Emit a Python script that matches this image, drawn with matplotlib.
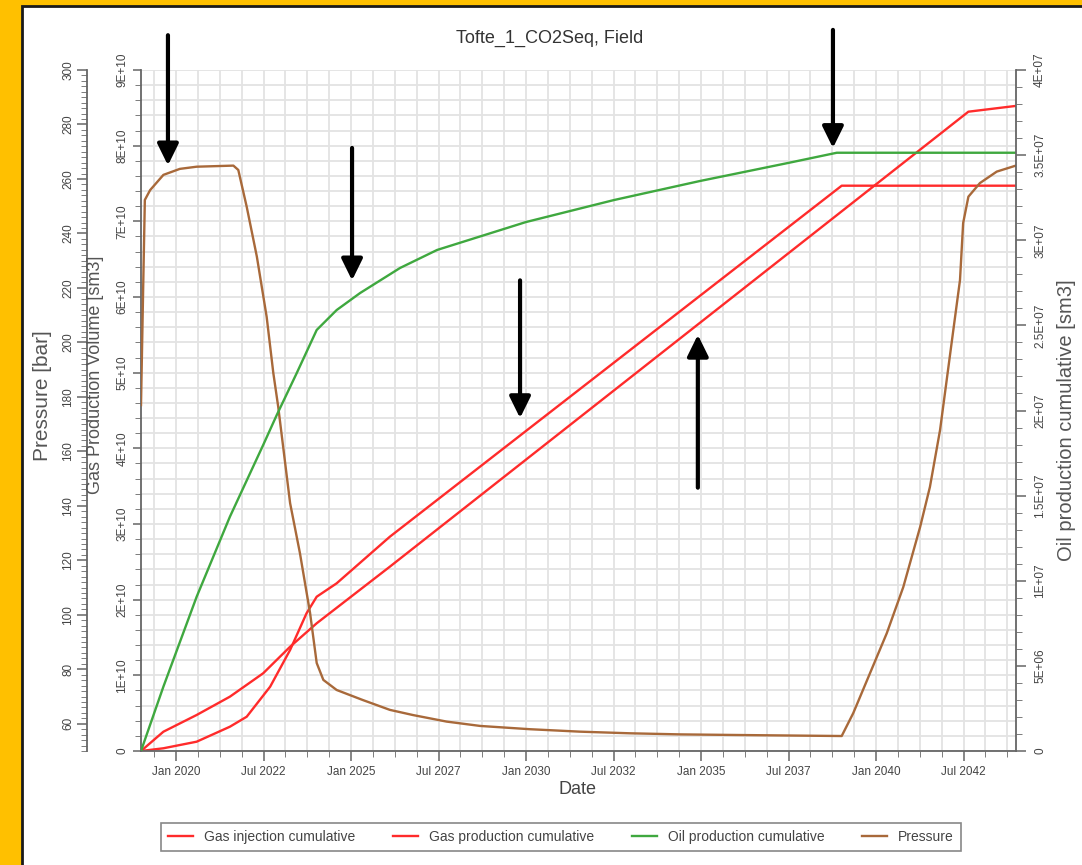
import matplotlib
matplotlib.use("Agg")
import matplotlib.pyplot as plt
from matplotlib.patches import Rectangle
from matplotlib.ticker import MultipleLocator, FuncFormatter, FixedLocator

plt.rcParams['font.family'] = ['Liberation Sans', 'DejaVu Sans']

# ---- data (x in decimal years) ----
p_years = [2019.0, 2019.07, 2019.11, 2019.26, 2019.64, 2020.11, 2020.59, 2021.64, 2021.78,
           2022.02, 2022.31, 2022.59, 2022.78, 2022.92, 2023.26, 2023.54, 2023.83, 2024.02,
           2024.21, 2024.59, 2025.34, 2026.11, 2026.77, 2027.73, 2028.69, 2030.11, 2031.54,
           2032.97, 2034.40, 2035.83, 2038.20, 2039.02, 2039.35, 2039.83, 2040.31, 2040.78,
           2041.26, 2041.54, 2041.83, 2042.02, 2042.21, 2042.40, 2042.49, 2042.64, 2042.97,
           2043.45, 2043.97]
pressure = [177.0, 225.5, 252.3, 255.9, 261.5, 263.7, 264.5, 264.9, 263.3,
            249.8, 231.5, 209.4, 188.8, 176.4, 141.0, 122.7, 100.7, 82.3,
            76.1, 72.4, 68.7, 65.1, 63.2, 60.8, 59.2, 58.0, 57.1,
            56.5, 56.1, 55.9, 55.6, 55.5, 63.9, 78.6, 93.3, 110.2,
            132.2, 146.9, 167.8, 186.2, 204.6, 222.9, 243.8, 253.5, 258.5,
            262.7, 264.8]

oil_years = [2019.0, 2019.64, 2020.59, 2021.54, 2022.49, 2022.88, 2023.45, 2024.02, 2024.59,
             2025.26, 2026.4, 2027.46, 2030.0, 2032.51, 2034.97, 2037.49, 2038.88, 2043.97]
oil_cum = [0, 0.378e7, 0.906e7, 1.376e7, 1.797e7, 1.974e7, 2.220e7, 2.473e7, 2.590e7,
           2.690e7, 2.837e7, 2.943e7, 3.107e7, 3.236e7, 3.348e7, 3.454e7, 3.514e7, 3.514e7]

gprod_years = [2019.0, 2019.64, 2020.59, 2021.54, 2022.02, 2022.69, 2023.26, 2023.73, 2024.02,
               2024.59, 2025.35, 2026.11, 2039.02, 2043.97]
gas_prod = [0, 0.036e10, 0.123e10, 0.321e10, 0.453e10, 0.85e10, 1.335e10, 1.82e10, 2.039e10,
            2.216e10, 2.524e10, 2.832e10, 7.471e10, 7.471e10]

ginj_years = [2019.0, 2019.64, 2020.59, 2021.54, 2022.49, 2023.26, 2024.02, 2024.88, 2026.11,
              2042.64, 2043.97]
gas_inj = [0, 0.255e10, 0.476e10, 0.718e10, 1.027e10, 1.378e10, 1.688e10, 1.996e10, 2.436e10,
           8.449e10, 8.524e10]

xtick_pos = [2020, 2022.5, 2025, 2027.5, 2030, 2032.5, 2035, 2037.5, 2040, 2042.5]
xtick_labels = ["Jan 2020", "Jul 2022", "Jan 2025", "Jul 2027", "Jan 2030",
                "Jul 2032", "Jan 2035", "Jul 2037", "Jan 2040", "Jul 2042"]

# annotation arrows: (year, tail, tip) in gas-axis units
arrows = [(2019.77, 9.46e10, 7.74e10), (2025.03, 7.97e10, 6.22e10),
          (2029.83, 6.22e10, 4.40e10), (2038.77, 9.53e10, 7.97e10),
          (2034.91, 3.48e10, 5.50e10)]

RED, GREEN, BROWN = '#ff2b2b', '#3fa83f', '#a8693a'
W, H = 1082, 865
fig = plt.figure(figsize=(W / 100, H / 100), dpi=100, facecolor='#ffc000')
fig.patches.append(Rectangle((22 / W, -0.01), 1.0, 1.01 - 6 / H, transform=fig.transFigure,
                             facecolor='white', edgecolor='#1a1a1a', lw=2, zorder=-5))

ax = fig.add_axes([141 / W, 1 - 751 / H, 875 / W, 681 / H])
ax.patch.set_alpha(0)
ax.set_xlim(2019, 2044)
ax.set_ylim(0, 9e10)
ax.xaxis.set_major_locator(FixedLocator(xtick_pos))
ax.xaxis.set_minor_locator(MultipleLocator(0.625))
ax.set_xticklabels(xtick_labels)
ax.yaxis.set_major_locator(MultipleLocator(1e10))
ax.yaxis.set_minor_locator(MultipleLocator(2e9))
ax.yaxis.set_major_formatter(FuncFormatter(lambda v, p: '0' if v == 0 else '%.0E' % v))
ax.grid(which='both', color='#e3e3e3', lw=1.3)
ax.set_axisbelow(True)

axp = ax.twinx()
axp.set_ylim(50, 300)
axp.yaxis.set_ticks_position('left')
axp.spines['left'].set_position(('axes', -54 / 875))
axp.spines['left'].set_visible(True)
axp.yaxis.set_major_locator(MultipleLocator(20))
axp.yaxis.set_minor_locator(MultipleLocator(2))

axo = ax.twinx()
axo.set_ylim(0, 4e7)
axo.yaxis.set_major_locator(MultipleLocator(5e6))
axo.yaxis.set_minor_locator(MultipleLocator(1e6))
axo.yaxis.set_major_formatter(FuncFormatter(
    lambda v, p: '0' if v == 0 else ('%.1E' % v).replace('.0E', 'E')))

for a in (ax, axp, axo):
    for s in a.spines.values():
        s.set_color('#666666')
        s.set_linewidth(1.3)
    a.spines['top'].set_visible(False)
ax.spines['right'].set_visible(False)
axp.spines['right'].set_visible(False)
axp.spines['bottom'].set_visible(False)
axo.spines['left'].set_visible(False)
axo.spines['bottom'].set_visible(False)

tk = dict(colors='#666666', labelcolor='#444444', labelsize=8.5, width=1.1)
ax.tick_params(axis='x', which='major', length=7, pad=4, **tk)
ax.tick_params(axis='x', which='minor', length=4, colors='#666666')
ax.tick_params(axis='y', which='major', length=6, pad=3, labelrotation=90, **tk)
axp.tick_params(axis='y', which='major', length=7, pad=2, labelrotation=90, **tk)
axo.tick_params(axis='y', which='major', length=7, pad=6, labelrotation=90, **tk)
for a in (ax, axp, axo):
    a.tick_params(axis='y', which='minor', length=4, colors='#666666')
for lab in ax.get_yticklabels() + axp.get_yticklabels() + axo.get_yticklabels():
    lab.set_va('center')

l1, = ax.plot(ginj_years, gas_inj, color=RED, lw=1.7)
l2, = ax.plot(gprod_years, gas_prod, color=RED, lw=1.7)
l3, = axo.plot(oil_years, oil_cum, color=GREEN, lw=1.7)
l4, = axp.plot(p_years, pressure, color=BROWN, lw=1.7)

for yr, tail, tip in arrows:
    axo.annotate('', xy=(yr, tip), xytext=(yr, tail), xycoords=ax.transData,
                 textcoords=ax.transData, annotation_clip=False,
                 arrowprops=dict(arrowstyle='-|>,head_length=0.65,head_width=0.32',
                                 color='black', lw=3, mutation_scale=20,
                                 shrinkA=0, shrinkB=0))

fig.text(550 / W, 1 - 38 / H, 'Tofte_1_CO2Seq, Field', ha='center', va='center',
         fontsize=13, color='#333333')
fig.text(578 / W, 1 - 790 / H, 'Date', ha='center', va='center', fontsize=13, color='#444444')
fig.text(42 / W, 1 - 396 / H, 'Pressure [bar]', ha='center', va='center', rotation=90,
         fontsize=15, color='#555555')
fig.text(95 / W, 1 - 375 / H, 'Gas Production Volume [sm3]', ha='center', va='center',
         rotation=90, fontsize=13, color='#555555')
fig.text(1066 / W, 1 - 420 / H, 'Oil production cumulative [sm3]', ha='center', va='center',
         rotation=90, fontsize=14.5, color='#555555')

leg = fig.legend([l1, l2, l3, l4],
                 ['Gas injection cumulative', 'Gas production cumulative',
                  'Oil production cumulative', 'Pressure'],
                 loc='center', bbox_to_anchor=(561 / W, 1 - 837 / H), ncol=4, fontsize=10,
                 handlelength=1.8, columnspacing=2.7, borderpad=0.5, fancybox=False,
                 edgecolor='#888888', framealpha=1)
leg.get_frame().set_linewidth(1.2)
for t in leg.get_texts():
    t.set_color('#444444')

fig.savefig('out.png', dpi=100, facecolor=fig.get_facecolor())
